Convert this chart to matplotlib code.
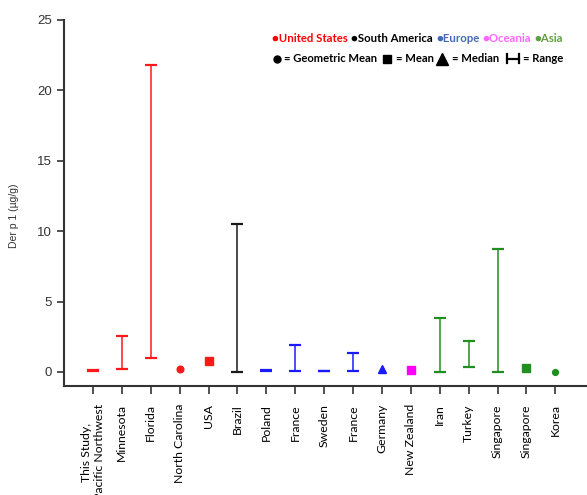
import numpy as np
import matplotlib.pyplot as plt
from matplotlib.lines import Line2D

# categories along the x axis
labels = ["This Study,\nPacific Northwest", "Minnesota", "Florida", "North Carolina", "USA",
          "Brazil", "Poland", "France", "Sweden", "France", "Germany", "New Zealand",
          "Iran", "Turkey", "Singapore", "Singapore", "Korea"]
regions = ["US", "US", "US", "US", "US", "SA", "EU", "EU", "EU", "EU", "EU", "OC",
           "AS", "AS", "AS", "AS", "AS"]
# kind of statistic: range, geometric mean, mean, median
kinds = ["range", "range", "range", "gmean", "mean", "range", "range", "range", "range",
         "range", "median", "mean", "range", "range", "range", "mean", "gmean"]
# values (ug/g): low/high for ranges, single value for point statistics
low = [0.05, 0.19, 0.97, 0.19, 0.75, 0.0, 0.04, 0.05, 0.05, 0.10, 0.22, 0.17,
       0.0, 0.38, 0.0, 0.26, 0.0]
high = [0.12, 2.58, 21.8, 0.19, 0.75, 10.5, 0.12, 1.92, 0.10, 1.37, 0.22, 0.17,
        3.81, 2.18, 8.76, 0.26, 0.0]

colors = {"US": "#ff1a1a", "SA": "#1a1a1a", "EU": "#1a1aff", "OC": "#ff00ff", "AS": "#1f8f1f"}
legend_colors = {"US": "#ff0000", "SA": "#000000", "EU": "#4169b8", "OC": "#ff66ff", "AS": "#5fa040"}
markers = {"gmean": "o", "mean": "s", "median": "^"}

fig = plt.figure(figsize=(5.87, 4.95), dpi=100)
ax = fig.add_axes([64 / 587, 1 - 386 / 495, 1 - 64 / 587 + 0.01, (386 - 20) / 495])

x = np.arange(len(labels))
for i in x:
    c = colors[regions[i]]
    if kinds[i] == "range":
        mid = (low[i] + high[i]) / 2
        ax.errorbar(i, mid, yerr=[[mid - low[i]], [high[i] - mid]], fmt="none",
                    ecolor=c, elinewidth=1.1, capsize=4.3, capthick=1.6)
    else:
        ms = 5.5 if kinds[i] != "gmean" else 4.8
        if i == len(labels) - 1:
            ms = 4.2
        ax.plot(i, low[i], marker=markers[kinds[i]], color=c, ms=ms, ls="none")

ax.set_xlim(-1, 17.3)
ax.set_ylim(-1, 25)
ax.set_yticks(np.arange(0, 26, 5))
ax.set_xticks(x)
ax.set_xticklabels(labels, rotation=90, family="Lato", fontsize=8.8, va="top", ha="center")
ax.tick_params(axis="y", labelsize=9.5, colors="#333333", length=5, width=1.2)
ax.tick_params(axis="x", length=6, width=1.2, colors="#333333", labelcolor="black", pad=7)
for lab in ax.get_yticklabels():
    lab.set_family("Liberation Sans")
for s in ["top", "right"]:
    ax.spines[s].set_visible(False)
for s in ["left", "bottom"]:
    ax.spines[s].set_linewidth(1.5)
    ax.spines[s].set_color("#333333")

fig.text(14 / 587, 1 - 216 / 495, "Der p 1 (µg/g)", rotation=90, ha="center", va="center",
         family="Liberation Sans", fontsize=7.5, color="#333333")

# legend built from text pieces
fam = ["Lato", "DejaVu Sans"]
def fx(px):
    return px / 587
def fy(py):
    return 1 - py / 495

row1 = [(272, "\u25cfUnited States", "US"), (351, "\u25cfSouth America", "SA"),
        (436, "\u25cfEurope", "EU"), (482, "\u25cfOceania", "OC"), (534, "\u25cfAsia", "AS")]
for px, txt, key in row1:
    fig.text(fx(px), fy(38.5), txt, color=legend_colors[key], family=fam,
             fontweight="bold", fontsize=8.2, ha="left", va="center")

# second row: symbol keys drawn as markers
for px, m, size in [(276.5, "o", 5), (387, "s", 6.3), (442, "^", 8.5)]:
    fig.add_artist(Line2D([fx(px)], [fy(58.5)], marker=m, ms=size, color="black",
                          ls="none", transform=fig.transFigure))
row2 = [(284.5, "= Geometric Mean"), (395.5, "= Mean"), (451.5, "= Median"), (523, "= Range")]
for px, txt in row2:
    fig.text(fx(px), fy(58.5), txt, color="black", family=fam,
             fontweight="bold", fontsize=8.1, ha="left", va="center")
# range key
for xs, ys in [((507, 519), (58.5, 58.5)), ((507.5, 507.5), (54, 63)), ((518.5, 518.5), (54, 63))]:
    fig.add_artist(Line2D([fx(v) for v in xs], [fy(v) for v in ys], color="black",
                          lw=1.6, transform=fig.transFigure))

fig.savefig("out.png", dpi=100)
